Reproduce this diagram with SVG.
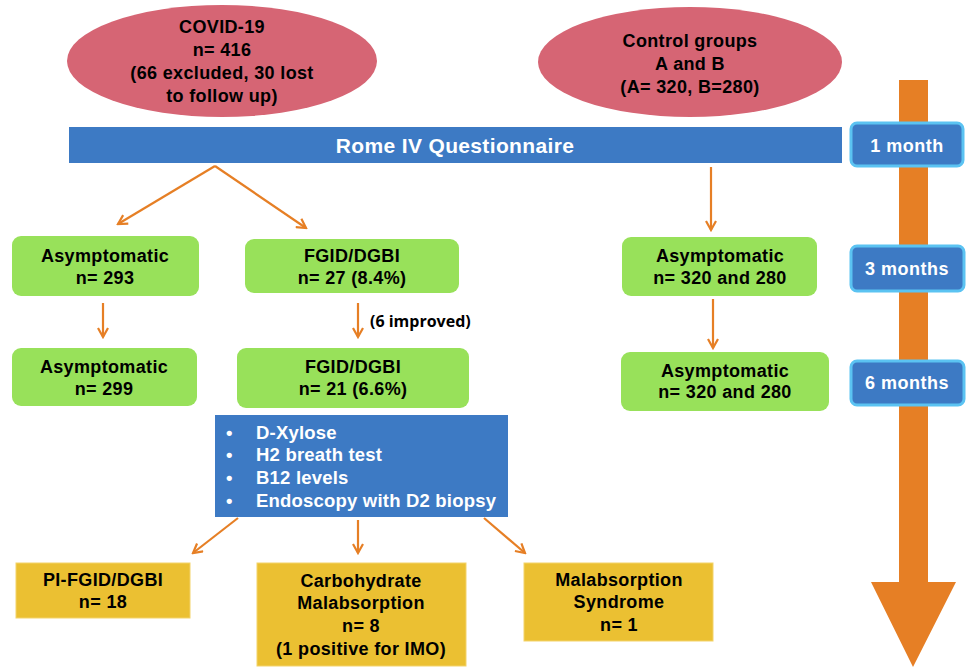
<svg xmlns="http://www.w3.org/2000/svg" width="967" height="667" viewBox="0 0 967 667">
<defs>
<style>
.t{font-family:"Liberation Sans",Arial,sans-serif;font-weight:bold;font-size:18px;letter-spacing:0.35px;fill:#000;text-anchor:middle}
.w{fill:#fff}
.l{text-anchor:start;font-size:18.5px;letter-spacing:0.2px}
.m{font-size:18px;letter-spacing:0.5px}
.ell{fill:#D66574}
.grn{fill:#98E15A}
.yel{fill:#EBC032;stroke:#F3D36A;stroke-width:1}
.blu{fill:#3D7AC4}
.tl{fill:#3D7AC4;stroke:#5BC3F2;stroke-width:3}
.c{stroke:#E67F25;stroke-width:2.2;fill:none;marker-end:url(#ah)}
</style>
<marker id="ah" viewBox="0 0 12 12" refX="10" refY="6" markerWidth="12" markerHeight="12" markerUnits="userSpaceOnUse" orient="auto">
<path d="M1,1 L10,6 L1,11" fill="none" stroke="#E67F25" stroke-width="2.2"/>
</marker>
</defs>
<rect width="967" height="667" fill="#fff"/>

<g id="timeline">
<path d="M899,80 H928 V582 H956 L913,667 L871,582 H899 Z" fill="#E67F25"/>
</g>

<g id="covid">
<ellipse class="ell" cx="222" cy="61" rx="155" ry="56"/>
<text class="t" x="222" y="33">COVID-19</text>
<text class="t" x="222" y="56">n= 416</text>
<text class="t" x="222" y="79">(66 excluded, 30 lost</text>
<text class="t" x="222" y="102">to follow up)</text>
</g>

<g id="control">
<ellipse class="ell" cx="690" cy="62" rx="152" ry="55"/>
<text class="t" x="690" y="47">Control groups</text>
<text class="t" x="690" y="70">A and B</text>
<text class="t" x="690" y="93">(A= 320, B=280)</text>
</g>

<g id="rome">
<rect class="blu" x="69" y="127" width="773" height="36"/>
<text class="t w" x="455" y="153" style="font-size:21px">Rome IV Questionnaire</text>
</g>

<g id="m1">
<rect class="tl" x="851" y="123" width="112" height="43" rx="6"/>
<text class="t w m" x="907" y="152">1 month</text>
</g>
<g id="m3">
<rect class="tl" x="851" y="246" width="113" height="45" rx="6"/>
<text class="t w m" x="907" y="275">3 months</text>
</g>
<g id="m6">
<rect class="tl" x="851" y="361" width="113" height="44" rx="6"/>
<text class="t w m" x="907" y="389">6 months</text>
</g>

<g id="asym293">
<rect class="grn" x="12" y="236" width="187" height="60" rx="9"/>
<text class="t" x="105" y="262">Asymptomatic</text>
<text class="t" x="105" y="284">n= 293</text>
</g>
<g id="fgid27">
<rect class="grn" x="245" y="239" width="214" height="54" rx="9"/>
<text class="t" x="352" y="262">FGID/DGBI</text>
<text class="t" x="352" y="284">n= 27 (8.4%)</text>
</g>
<g id="asym299">
<rect class="grn" x="12" y="348" width="185" height="58" rx="9"/>
<text class="t" x="104" y="373">Asymptomatic</text>
<text class="t" x="104" y="395">n= 299</text>
</g>
<g id="fgid21">
<rect class="grn" x="237" y="348" width="232" height="60" rx="9"/>
<text class="t" x="353" y="373">FGID/DGBI</text>
<text class="t" x="353" y="395">n= 21 (6.6%)</text>
</g>
<g id="ctrl3">
<rect class="grn" x="622" y="237" width="195" height="59" rx="9"/>
<text class="t" x="720" y="262">Asymptomatic</text>
<text class="t" x="720" y="284">n= 320 and 280</text>
</g>
<g id="ctrl6">
<rect class="grn" x="621" y="352" width="208" height="59" rx="9"/>
<text class="t" x="725" y="377">Asymptomatic</text>
<text class="t" x="725" y="398">n= 320 and 280</text>
</g>

<g id="tests">
<rect class="blu" x="215" y="415" width="293" height="102"/>
<text class="t w l" x="226" y="439">•</text>
<text class="t w l" x="256" y="439">D-Xylose</text>
<text class="t w l" x="226" y="461">•</text>
<text class="t w l" x="256" y="461">H2 breath test</text>
<text class="t w l" x="226" y="484">•</text>
<text class="t w l" x="256" y="484">B12 levels</text>
<text class="t w l" x="226" y="507">•</text>
<text class="t w l" x="256" y="507">Endoscopy with D2 biopsy</text>
</g>

<g id="pi">
<rect class="yel" x="16" y="563" width="174" height="55"/>
<text class="t" x="103" y="586">PI-FGID/DGBI</text>
<text class="t" x="103" y="608">n= 18</text>
</g>
<g id="carb">
<rect class="yel" x="257" y="563" width="209" height="103"/>
<text class="t" x="361" y="587">Carbohydrate</text>
<text class="t" x="361" y="609">Malabsorption</text>
<text class="t" x="361" y="632">n= 8</text>
<text class="t" x="361" y="655">(1 positive for IMO)</text>
</g>
<g id="malab">
<rect class="yel" x="524" y="563" width="189" height="78"/>
<text class="t" x="619" y="586">Malabsorption</text>
<text class="t" x="619" y="608">Syndrome</text>
<text class="t" x="619" y="631">n= 1</text>
</g>

<g id="connectors">
<path class="c" d="M215,166 L118,224"/>
<path class="c" d="M215,166 L306,228"/>
<path class="c" d="M711,167 V230"/>
<path class="c" d="M103,303 V337"/>
<path class="c" d="M358,303 V337"/>
<path class="c" d="M713,299 V348"/>
<path class="c" d="M238,518 L193,553"/>
<path class="c" d="M358,520 V553"/>
<path class="c" d="M484,518 L525,553"/>
<text x="370" y="327" style="font-family:'Open Sans',sans-serif;font-weight:bold;font-size:16px;fill:#000">(6 improved)</text>
</g>
</svg>
